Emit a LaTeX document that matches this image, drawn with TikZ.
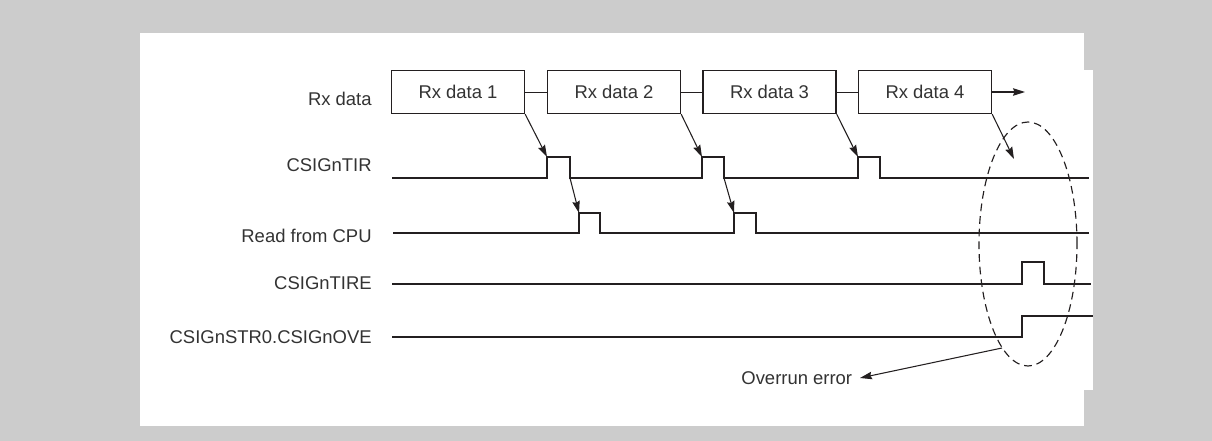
\documentclass[tikz,border=0pt]{standalone}
\usepackage{fontspec}
\setmainfont{Liberation Sans}
\usetikzlibrary{arrows.meta,positioning}
\definecolor{Frame}{HTML}{CCCCCC}
\definecolor{Ink}{HTML}{231F20}
\definecolor{Label}{HTML}{333333}
\tikzset{
  sig/.style={draw=Ink,line width=1.15pt,line join=miter},
  bx/.style={rectangle,draw=Ink,fill=white,line width=0.8pt,minimum width=26.6mm,minimum height=8.6mm,inner sep=0pt,text=Label,font=\fontsize{10.5}{12}\selectfont},
  link/.style={draw=Ink,line width=0.55pt},
  cause/.style={draw=Ink,line width=0.6pt,-{Stealth[length=2.4mm,width=1.5mm,inset=0.3mm]}},
  lbl/.style={font=\fontsize{10.5}{12}\selectfont,text=Label,anchor=east,inner sep=0pt},
  ring/.style={draw=Ink,line width=0.65pt,dash pattern=on 4.4pt off 2.8pt},
}
\begin{document}
\begin{tikzpicture}[x=0.2mm,y=-0.2mm]
\path[use as bounding box] (0,0) rectangle (1212,441);
\fill[Frame] (0,0) rectangle (1212,441);
\fill[white] (140,33) rectangle (1084,426);
\fill[white] (1084,70) rectangle (1093,390);

% signal names
\node[lbl] (lrx) at (372,99) {Rx data};
\node[lbl] (ltir) at (372,165) {CSIGnTIR};
\node[lbl] (lcpu) at (372,236) {Read from CPU};
\node[lbl] (ltire) at (372,283) {CSIGnTIRE};
\node[lbl] (love) at (372,337) {CSIGnSTR0.CSIGnOVE};

% received frames
\node[bx] (rx1) at (458,92) {Rx data 1};
\node[bx] (rx2) at (614,92) {Rx data 2};
\node[bx] (rx3) at (769.5,92) {Rx data 3};
\node[bx] (rx4) at (925,92) {Rx data 4};
\coordinate (rxend) at (1025,92);
\draw[link] (rx1) -- (rx2);
\draw[link] (rx2) -- (rx3);
\draw[link] (rx3) -- (rx4);
\draw[cause] (rx4.east) -- (rxend);

% waveforms
\draw[sig] (392,178) -- (547,178) -- (547,157) -- (570,157) -- (570,178) -- (702,178) -- (702,157) -- (724,157) -- (724,178)
  -- (858,178) -- (858,157) -- (880,157) -- (880,178) -- (1089,178);
\draw[sig] (393,233) -- (579,233) -- (579,213) -- (600,213) -- (600,233) -- (734,233) -- (734,213) -- (756,213) -- (756,233) -- (1089,233);
\draw[sig] (392,284) -- (1022,284) -- (1022,262) -- (1044,262) -- (1044,284) -- (1091,284);
\draw[sig] (392,337) -- (1022,337) -- (1022,316) -- (1093,316);

\coordinate (tir1) at (547,157);
\coordinate (tir2) at (702,157);
\coordinate (tir3) at (858,157);
\coordinate (tir4) at (1014,159);
\coordinate (tirf1) at (570,178);
\coordinate (tirf2) at (724,178);
\coordinate (cpu1) at (579,213);
\coordinate (cpu2) at (734,213);
\draw[cause] (rx1.south east) -- (tir1);
\draw[cause] (rx2.south east) -- (tir2);
\draw[cause] (rx3.south east) -- (tir3);
\draw[cause] (rx4.south east) -- (tir4);
\draw[cause] (tirf1) -- (cpu1);
\draw[cause] (tirf2) -- (cpu2);

% overrun
\draw[ring] (1028,244) ellipse [x radius=9.8mm,y radius=24.4mm];
\node[lbl,inner sep=1.5mm] (ovr) at (860,378) {Overrun error};
\coordinate (ovrfrom) at (1002,348);
\draw[cause] (ovrfrom) -- (ovr.east);
\end{tikzpicture}
\end{document}
